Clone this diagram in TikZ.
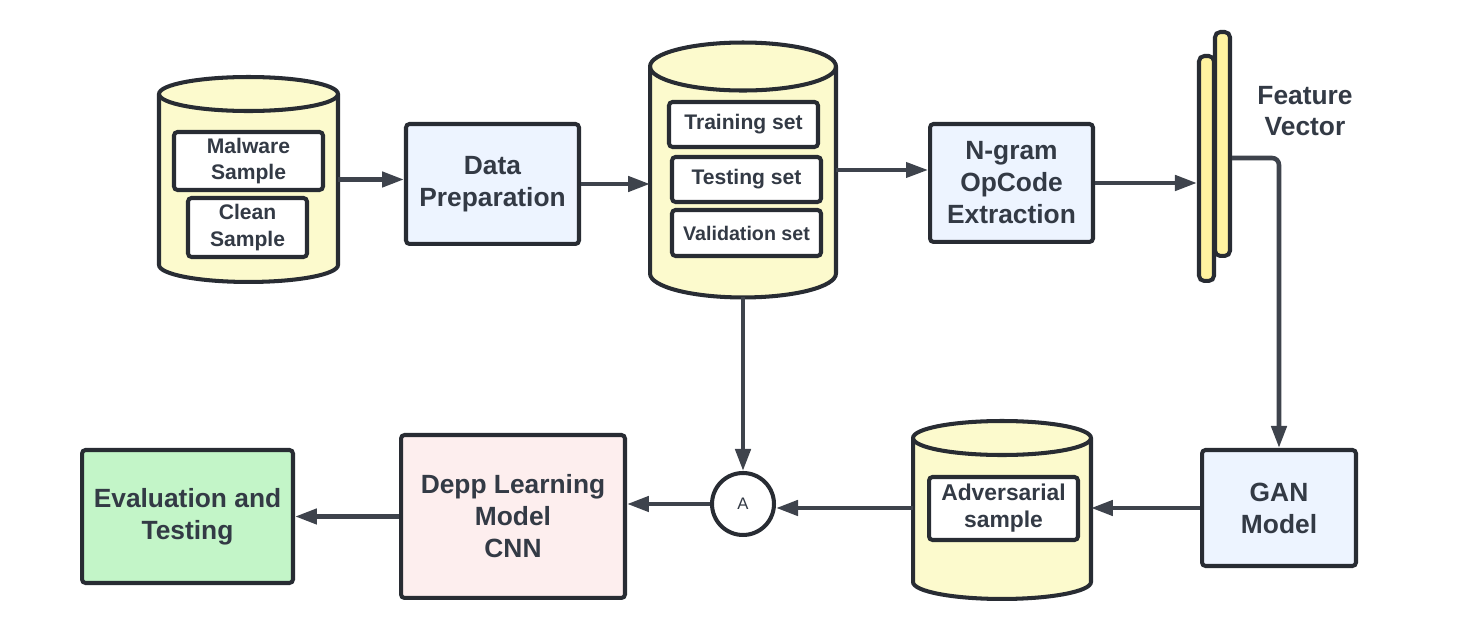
\documentclass[tikz,border=0pt]{standalone}
\usepackage{fontspec}
\setmainfont{Liberation Sans}
\usetikzlibrary{arrows.meta}
\definecolor{inkline}{RGB}{40,44,51}
\definecolor{inktext}{RGB}{51,58,69}
\definecolor{wireline}{RGB}{62,67,76}
\definecolor{azulclaro}{RGB}{237,244,255}
\definecolor{crema}{RGB}{252,250,205}
\definecolor{amarelo}{RGB}{255,243,160}
\definecolor{rosa}{RGB}{253,238,238}
\definecolor{verde}{RGB}{195,245,200}

% drum: name, centre, width, height, y radius of the ends
\newcommand{\drum}[5]{%
  \node[minimum width=#3, minimum height=#4, inner sep=0pt, outer sep=0pt] (#1) at #2 {};
  \filldraw[drum] ([yshift=-#5]#1.north west)
    -- ([yshift=#5]#1.south west)
    arc[start angle=180, end angle=360, x radius=#3/2, y radius=#5]
    -- ([yshift=-#5]#1.north east)
    arc[start angle=0, end angle=180, x radius=#3/2, y radius=#5] -- cycle;
  \draw[rim] ([yshift=-#5]#1.north west)
    arc[start angle=180, end angle=360, x radius=#3/2, y radius=#5];
}

\begin{document}
\begin{tikzpicture}[
    x=0.02cm, y=0.02cm,
    box/.style={
        rectangle,
        rounded corners=2pt,
        draw=inkline,
        line width=2.3pt,
        align=center,
        text=inktext,
        font=\fontsize{15}{18.2}\selectfont\bfseries,
        fill=azulclaro
    },
    setbox/.style={
        rectangle,
        rounded corners=2pt,
        draw=inkline,
        line width=2.3pt,
        align=center,
        text=inktext,
        font=\fontsize{12}{15}\selectfont\bfseries,
        fill=white,
        minimum width=2.98cm
    },
    bar/.style={
        rectangle,
        rounded corners=3pt,
        draw=inkline,
        line width=2.3pt,
        fill=amarelo,
        minimum width=0.3cm
    },
    drum/.style={draw=inkline, line width=2.3pt, fill=crema},
    rim/.style={draw=inkline, line width=2.3pt},
    wire/.style={-{Triangle[length=0.44cm, width=0.3cm]}, line width=2.6pt, draw=wireline}
]
\useasboundingbox (0,0) rectangle (1465,628);

% ---------------- Muestras ----------------
\drum{src}{(248.5,448.5)}{3.58cm}{4.1cm}{0.34cm}
\node[setbox] (malware) at (248.5,467) [minimum height=1.16cm] {Malware\\Sample};
\node[setbox, minimum width=2.38cm, minimum height=1.18cm] (clean) at (247.5,400.5) {Clean\\Sample};

\node[box, minimum width=3.46cm, minimum height=2.4cm] (prep) at (492.5,444) {Data\\Preparation};

% ---------------- Conjuntos ----------------
\drum{sets}{(743,458)}{3.72cm}{5.1cm}{0.48cm}
\node[setbox, minimum height=0.9cm] (train) at (743.5,503.5) {Training set};
\node[setbox, minimum height=0.9cm] (test) at (746.5,448.5) {Testing set};
\node[setbox, minimum height=0.92cm, font=\fontsize{11.2}{14}\selectfont\bfseries] (valid) at (746.5,395) {Validation set};

\node[box, minimum width=3.26cm, minimum height=2.36cm] (ngram) at (1011.5,445) {N-gram\\OpCode\\Extraction};

% ---------------- Vector ----------------
\node[bar, minimum height=4.48cm] (vecB) at (1222.5,484) {};
\node[bar, minimum height=4.5cm] (vecA) at (1206.5,459.5) {};
\node[align=center, text=inktext, font=\fontsize{15}{17.6}\selectfont\bfseries] (featlabel) at (1305,517) {Feature\\Vector};

% ---------------- Fila inferior ----------------
\node[box, minimum width=3.08cm, minimum height=2.32cm] (gan) at (1279,120) {GAN\\Model};
\drum{adv}{(1002,118)}{3.56cm}{3.56cm}{0.34cm}
\node[setbox, minimum height=1.26cm, font=\fontsize{13}{15.4}\selectfont\bfseries] (advs) at (1003.5,119.5) {Adversarial\\sample};
\node[circle, draw=inkline, line width=2.3pt, fill=white, minimum size=1.24cm, inner sep=0pt, text=inktext, font=\fontsize{9.5}{11}\selectfont] (join) at (743,124) {A};
\node[box, minimum width=4.48cm, minimum height=3.26cm, fill=rosa] (cnn) at (513,111.5) {Depp Learning\\Model\\CNN};
\node[box, minimum width=4.22cm, minimum height=2.66cm, fill=verde] (eval) at (187.5,111.5) {Evaluation and\\Testing};

% ---------------- Conectores ----------------
\draw[wire] (src.east) -- (src.east -| prep.west);
\draw[wire] (prep.east) -- (prep.east -| sets.west);
\draw[wire, line width=2.2pt] (sets.east) -- (sets.east -| ngram.west);
\draw[wire] (ngram.east) -- (ngram.east -| vecA.west);
\draw[wire, rounded corners=4pt] ([yshift=-0.28cm]vecB.east) -| (gan.north);
\draw[wire] (gan.west) -- (gan.west -| adv.east);
\draw[wire] ([yshift=0.04cm]adv.west) -- ([yshift=0.04cm]adv.west -| join.east);
\draw[wire] (sets.south) -- (join.north);
\draw[wire] (join.west) -- (join.west -| cnn.east);
\draw[wire] (cnn.west) -- (cnn.west -| eval.east);

\end{tikzpicture}
\end{document}
